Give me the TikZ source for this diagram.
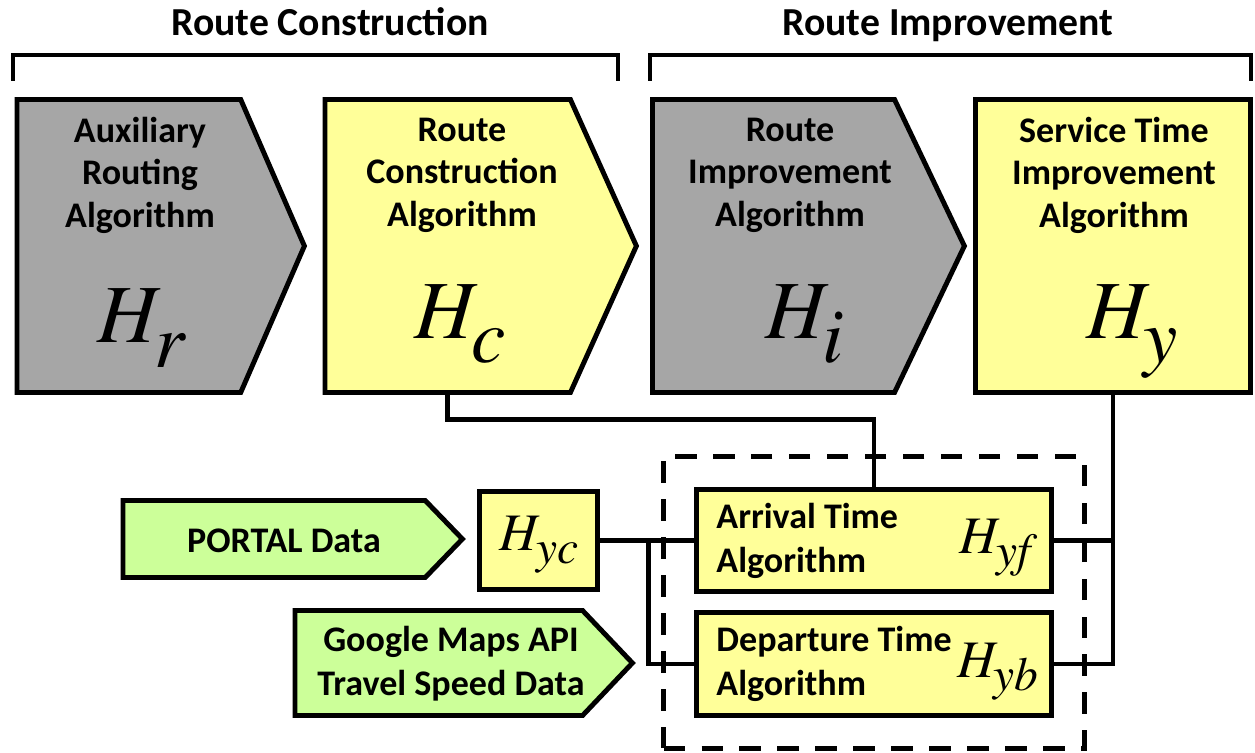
\documentclass[tikz,border=0pt]{standalone}
\usepackage{fontspec}
\setmainfont{Carlito}
\usepackage{xcolor}
\usetikzlibrary{shapes.symbols, positioning, calc, fit}

\definecolor{boxgray}{RGB}{166,166,166}
\definecolor{boxyellow}{RGB}{255,255,153}
\definecolor{boxgreen}{RGB}{204,255,153}

\newcommand{\Hbig}[1]{{\fontsize{47}{47}\usefont{OT1}{ptm}{m}{it}H\kern-0.03em\raisebox{-0.3em}{\fontsize{44}{44}\selectfont #1}}}
\newcommand{\Hsmall}[1]{{\fontsize{30}{30}\usefont{OT1}{ptm}{m}{it}H\kern-0.03em\raisebox{-0.25em}{\fontsize{27}{27}\selectfont #1}}}

\begin{document}
\begin{tikzpicture}[x=0.02cm, y=-0.02cm, line width=2.8pt,
    lbl/.style={font=\bfseries\fontsize{20.5}{24.2}\selectfont, align=center, inner sep=0pt},
    lbltwo/.style={font=\bfseries\fontsize{20.5}{25}\selectfont, inner sep=0pt},
    ttl/.style={font=\bfseries\fontsize{22.6}{27}\selectfont, inner sep=0pt, anchor=base},
    hlbl/.style={inner sep=0pt, anchor=base},
    algo/.style={signal, signal to=east, draw, minimum height=5.86cm, inner sep=0pt, anchor=west},
    datain/.style={signal, signal to=east, draw, fill=boxgreen, inner sep=0pt, anchor=west},
    blk/.style={rectangle, draw, fill=boxyellow, inner sep=0pt},
    grp/.style={draw, dash pattern=on 12.2pt off 9.4pt, inner sep=0.61cm}]

    \useasboundingbox (0,0) rectangle (1255,753);

    % phases
    \node[ttl] (rc) at (330,36) {Route Construction};
    \node[ttl] (ri) at (948,36) {Route Improvement};
    \draw (13,81) |- (618,55) -- (618,81);
    \draw (650,81) |- (1251,55) -- (1251,81);

    % algorithm chain
    \node[algo, fill=boxgray, minimum width=5.75cm, signal pointer angle=133] (hr) at (14.5,246) {};
    \node[algo, fill=boxyellow, minimum width=6.23cm, signal pointer angle=131.5] (hc) at (322.5,246) {};
    \node[algo, fill=boxgray, minimum width=6.24cm, signal pointer angle=129] (hi) at (650,246) {};
    \node[blk, minimum width=5.51cm, minimum height=5.86cm] (hy) at (1113,246) {};

    \node[lbl] (hrt) at (140,175) {Auxiliary\\Routing\\Algorithm};
    \node[lbl] (hct) at (462,175) {Route\\Construction\\Algorithm};
    \node[lbl] (hit) at (790,175) {Route\\Improvement\\Algorithm};
    \node[lbl] (hyt) at (1114,175) {Service Time\\Improvement\\Algorithm};

    \node[hlbl] (hrm) at (141,343) {\Hbig{r}};
    \node[hlbl] (hcm) at (460,338) {\Hbig{c}};
    \node[hlbl] (him) at (805,338) {\Hbig{i}};
    \node[hlbl] (hym) at (1132,338) {\Hbig{y}};

    % service time part
    \node[blk, minimum width=2.36cm, minimum height=1.96cm] (hyc) at (538.5,540.5) {};
    \node[hlbl] (hycm) at (539,550) {\Hsmall{yc}};
    \node[blk, minimum width=7.1cm, minimum height=2.04cm] (arr) at (874,540.5) {};
    \node[blk, minimum width=7.1cm, minimum height=2.06cm] (dep) at (874,664) {};
    \node[lbltwo, align=left, anchor=west] (arrt) at (714,540.5) {Arrival Time\\Algorithm};
    \node[lbltwo, align=left, anchor=west] (dept) at (714,664) {Departure Time\\Algorithm};
    \node[hlbl] (hyfm) at (995,553) {\Hsmall{yf}};
    \node[hlbl] (hybm) at (998,677) {\Hsmall{yb}};
    \node[grp, fit=(arr)(dep)] (svc) {};

    \node[datain, minimum width=6.79cm, minimum height=1.54cm, signal pointer angle=92] (portal) at (120.5,539) {};
    \node[lbl] (portalt) at (284,541) {PORTAL Data};
    \node[datain, minimum width=6.75cm, minimum height=2.1cm, signal pointer angle=93] (gmaps) at (292.5,663) {};
    \node[lbltwo, align=center] (gmapst) at (451,664) {Google Maps API\\Travel Speed Data};

    % links
    \draw (hc.south) -- ++(0,25) -| (arr.north);
    \draw (hy.south) |- (dep.east);
    \draw (arr.east) -- (arr.east -| hy.south);
    \draw (hyc.east) -- (arr.west);
    \coordinate (split) at ($(hyc.east)!0.52!(arr.west)$);
    \draw (split) |- (dep.west);

\end{tikzpicture}
\end{document}
